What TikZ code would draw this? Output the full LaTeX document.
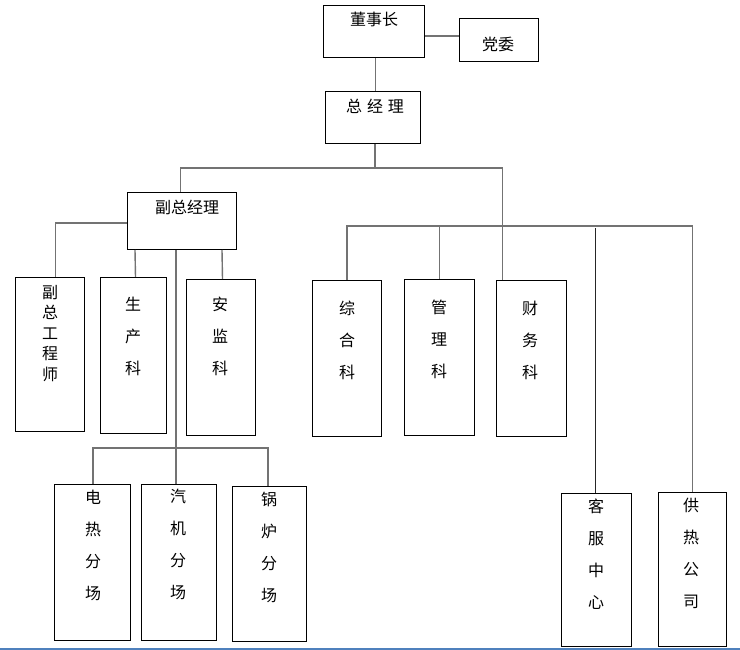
\documentclass[tikz,border=0pt]{standalone}
\usepackage{fontspec}
\setmainfont{Noto Sans CJK SC}
\usetikzlibrary{calc}
\tikzset{
  box/.style={draw=black, line width=1pt, rectangle, inner sep=0pt, anchor=north west},
  conn/.style={draw=black!55, line width=1.4pt},
  thinconn/.style={draw=black!85, line width=1pt},
  vtxt/.style={inner sep=0pt, anchor=north, align=center, font=\fontsize{16}{32}\selectfont},
  htxt/.style={inner sep=0pt, anchor=north, font=\fontsize{16}{18}\selectfont},
}
\newcommand\mybox[5]{\node[box, minimum width=#4pt-#2pt, minimum height=#5pt-#3pt] (#1) at (#2,#3) {};}
\begin{document}
\begin{tikzpicture}[x=1pt,y=-1pt]
\useasboundingbox (0,0) rectangle (740,650);
% boxes
\mybox{dsz}{323}{5}{424}{57}
\mybox{dw}{459}{18}{538}{61}
\mybox{zjl}{325}{91}{420}{143}
\mybox{fzjl}{127}{192}{236}{249}
\mybox{fzgcs}{15}{277}{84}{431}
\mybox{sck}{100}{277}{166}{433}
\mybox{ajk}{186}{279}{255}{435}
\mybox{zhk}{312}{280}{381}{436}
\mybox{glk}{404}{279}{474}{435}
\mybox{cwk}{496}{280}{566}{436}
\mybox{drfc}{54}{484}{130}{640}
\mybox{qjfc}{141}{484}{216}{640}
\mybox{glfc}{232}{486}{306}{641}
\mybox{kfzx}{561}{493}{631}{646}
\mybox{grgs}{658}{492}{726}{646}
% texts
\node[htxt] (t-dsz) at (374,12) {董事长};
\node[htxt] (t-dw) at (498,37) {党委};
\node[htxt] (t-zjl) at (375,99) {总\hspace{0.3em}经\hspace{0.3em}理};
\node[htxt] (t-fzjl) at (187,200) {副总经理};
\node[vtxt, font=\fontsize{16}{20.5}\selectfont] (t-fzgcs) at (50,285) {副\\总\\工\\程\\师};
\node[vtxt] (t-sck) at (133,297) {生\\产\\科};
\node[vtxt] (t-ajk) at (220,297) {安\\监\\科};
\node[vtxt] (t-zhk) at (347,301) {综\\合\\科};
\node[vtxt] (t-glk) at (439,300) {管\\理\\科};
\node[vtxt] (t-cwk) at (530,301) {财\\务\\科};
\node[vtxt] (t-drfc) at (93,490) {电\\热\\分\\场};
\node[vtxt] (t-qjfc) at (178,489) {汽\\机\\分\\场};
\node[vtxt] (t-glfc) at (269,492) {锅\\炉\\分\\场};
\node[vtxt] (t-kfzx) at (596,499) {客\\服\\中\\心};
\node[vtxt] (t-grgs) at (691,498) {供\\热\\公\\司};
% junction coordinates
\coordinate (h1) at (375,168);
\coordinate (h2) at (502,226);
\coordinate (h3) at (176,448);
% connectors
\draw[conn] (dsz.east |- 0,36) -- (dw.west |- 0,36);
\draw[conn] ([xshift=1.5]dsz.south) -- ([xshift=1.5]dsz.south |- zjl.north);
\draw[conn] (zjl.south -| h1) -- (h1);
\draw[conn] ([xshift=-1.5]fzjl.north) |- (h1) -| ([xshift=-29]cwk.north);
\draw[conn] (zhk.north) |- (h2) -| (grgs.north);
\draw[conn] (glk.north) -- (glk.north |- h2);
\draw[thinconn] (kfzx.north -| 595,0) -- (595,228);
\draw[conn] (fzjl.west |- 0,223) -| ([xshift=5.5]fzgcs.north);
\draw[conn] (fzjl.south -| 135,0) -- ([xshift=2]sck.north);
\draw[conn] (fzjl.south -| 222,0) -- ([xshift=1.5]ajk.north);
\draw[conn] (fzjl.south -| h3) -- (qjfc.north -| h3);
\draw[conn] (drfc.north -| 93,0) |- (h3) -| (glfc.north -| 268,0);
% bottom rule
\draw[line width=2pt, draw={rgb,255:red,79;green,129;blue,189}] (0,649) -- (740,649);
\end{tikzpicture}
\end{document}
